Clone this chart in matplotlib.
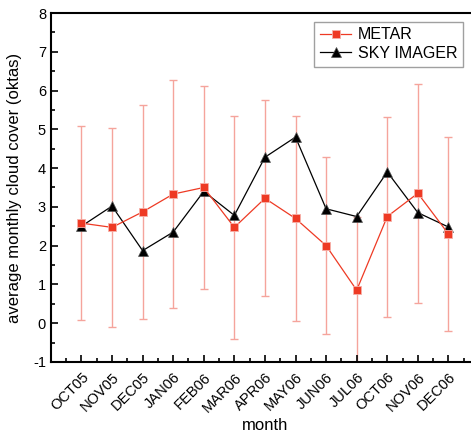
import matplotlib
matplotlib.use("Agg")
import matplotlib.pyplot as plt
from matplotlib.ticker import MultipleLocator

plt.rcParams['font.family'] = ['Liberation Sans', 'DejaVu Sans']
plt.rcParams['axes.unicode_minus'] = False

months = ["OCT05", "NOV05", "DEC05", "JAN06", "FEB06", "MAR06", "APR06",
          "MAY06", "JUN06", "JUL06", "OCT06", "NOV06", "DEC06"]
metar = [2.58, 2.47, 2.87, 3.33, 3.50, 2.47, 3.22, 2.70, 2.00, 0.85, 2.75, 3.35, 2.30]
metar_err = [2.50, 2.56, 2.76, 2.95, 2.61, 2.88, 2.53, 2.65, 2.28, 1.90, 2.58, 2.82, 2.50]
sky = [2.50, 3.02, 1.87, 2.35, 3.40, 2.78, 4.28, 4.80, 2.95, 2.75, 3.90, 2.85, 2.48]

x = list(range(1, len(months) + 1))

fig = plt.figure(figsize=(4.71, 4.36), dpi=100)
ax = fig.add_axes([0.108, 0.170, 0.909, 0.800])

ax.errorbar(x, metar, yerr=metar_err, fmt='none', ecolor='#f5a49c',
            elinewidth=1, capsize=3, capthick=1, zorder=1)
ax.plot(x, metar, color='#ee3a24', marker='s', markersize=6, linewidth=0.9,
        markeredgecolor='#f7b0a8', markeredgewidth=0.6, label="METAR", zorder=3)
ax.plot(x, sky, color='black', marker='^', markersize=7.5, linewidth=0.9,
        markeredgecolor='#555555', markeredgewidth=0.5, label="SKY IMAGER", zorder=2)

ax.set_xlim(0, 14)
ax.set_ylim(-1, 8)
ax.set_xticks(x)
ax.set_xticklabels(months, rotation=45, ha='right', rotation_mode='anchor', fontsize=10.5)
ax.xaxis.set_minor_locator(MultipleLocator(0.5))
ax.yaxis.set_major_locator(MultipleLocator(1))
ax.yaxis.set_minor_locator(MultipleLocator(0.5))
ax.tick_params(axis='both', which='major', direction='in', length=5, width=1.2, labelsize=10.5)
ax.tick_params(axis='both', which='minor', direction='in', length=3, width=1.2)
ax.tick_params(axis='x', pad=6)

for s in ['top', 'left', 'bottom']:
    ax.spines[s].set_linewidth(1.5)
ax.spines['right'].set_visible(False)

ax.set_xlabel("month", fontsize=12, labelpad=2)
ax.set_ylabel("average monthly cloud cover (oktas)", fontsize=12, labelpad=8)

leg = ax.legend(loc='upper left', bbox_to_anchor=(0.607, 0.985), fontsize=11.5,
                frameon=True, fancybox=False, edgecolor='#888888',
                handlelength=2.0, borderpad=0.35, labelspacing=0.25, handletextpad=0.4,
                borderaxespad=0.2)
leg.get_frame().set_linewidth(1)

fig.savefig("out.png", dpi=100)
